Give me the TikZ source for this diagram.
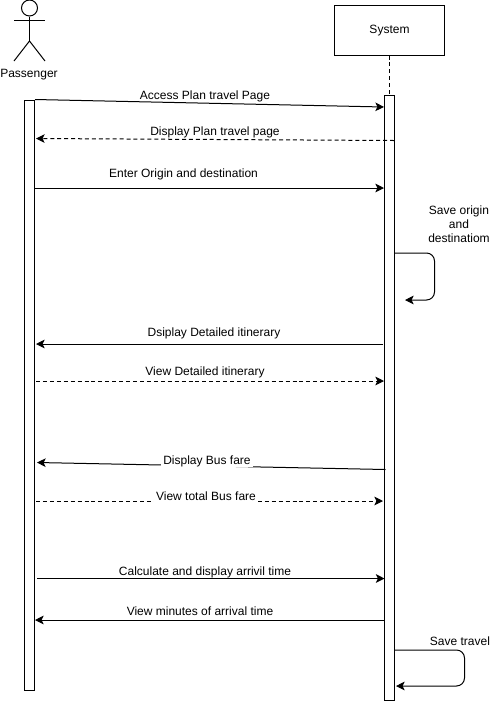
\documentclass[tikz,border=0pt]{standalone}
\usepackage{fontspec}
\setmainfont{Liberation Sans}
\usetikzlibrary{arrows.meta,positioning}
\tikzset{
  lane/.style={
    draw,
    fill=white,
    minimum width=7.5pt,
    inner sep=0pt,
    line width=0.75pt
  },
  sysbox/.style={
    draw,
    fill=white,
    minimum width=82.5pt,
    minimum height=37.5pt,
    inner sep=0pt,
    line width=0.75pt,
    font=\fontsize{9}{10.5}\selectfont
  },
  lbl/.style={
    align=center,
    inner sep=0pt,
    font=\fontsize{9}{10.5}\selectfont
  },
  lblw/.style={
    lbl,
    fill=white,
    inner xsep=1.5pt,
    inner ysep=0pt
  },
  flow/.style={-{Stealth[length=6.5pt,width=6.5pt,inset=1.6pt]}, line width=0.75pt},
  back/.style={flow, dashed, dash pattern=on 3pt off 2.2pt},
  actor/.style={line width=0.75pt}
}

\begin{document}
\begin{tikzpicture}[x=0.75pt,y=-0.75pt]
  \useasboundingbox (0,0) rectangle (495,701);

  % actor
  \node[circle, draw, actor, minimum size=12pt, inner sep=0pt] (head) at (29.5,8) {};
  \coordinate (neck) at (29.5,41);
  \coordinate (armL) at (14,20);
  \coordinate (armR) at (45,20);
  \coordinate (legL) at (14,61);
  \coordinate (legR) at (45,61);
  \draw[actor] (head) -- (neck);
  \draw[actor] (armL) -- (armR);
  \draw[actor] (legL) -- (neck) -- (legR);
  \node[lbl] (passenger) at (29,75) {Passenger};

  % system
  \node[sysbox] (system) at (389.5,30) {\raisebox{-2.6pt}[0pt][0pt]{System}};
  \node[lane, minimum height=453.75pt] (sysbar) at (389.5,397.5) {};
  \node[lane, minimum height=442.5pt] (pasbar) at (29.5,395) {};
  \draw[dashed, dash pattern=on 3pt off 2.2pt, line width=0.75pt] (system) -- (sysbar);

  % message ends
  \coordinate (a1) at (35,99.5);   \coordinate (b1) at (384,107);
  \coordinate (a2) at (394,140.5); \coordinate (b2) at (36,138.5);
  \coordinate (a3) at (35,188);    \coordinate (b3) at (384,188);
  \coordinate (a4) at (394.5,253); \coordinate (c4) at (434.5,253);
  \coordinate (d4) at (434.5,300); \coordinate (b4) at (405,300);
  \coordinate (a5) at (383,344);   \coordinate (b5) at (36,344);
  \coordinate (a6) at (36,381);    \coordinate (b6) at (384,381);
  \coordinate (a7) at (385.5,469.5); \coordinate (b7) at (37,462.5);
  \coordinate (a8) at (36,501);    \coordinate (b8) at (383,501);
  \coordinate (a9) at (37,578.5);  \coordinate (b9) at (384.5,578.5);
  \coordinate (a10) at (384.5,620); \coordinate (b10) at (35,620);
  \coordinate (a11) at (394.5,650); \coordinate (c11) at (464.5,650);
  \coordinate (d11) at (464.5,686); \coordinate (b11) at (396,686);

  \draw[flow] (a1) -- (b1);
  \draw[back] (a2) -- (b2);
  \draw[flow] (a3) -- (b3);
  \draw[flow, rounded corners=6pt] (a4) -- (c4) -- (d4) -- (b4);
  \draw[flow] (a5) -- (b5);
  \draw[back] (a6) -- (b6);
  \draw[flow] (a7) -- (b7);
  \draw[back] (a8) -- (b8);
  \draw[flow] (a9) -- (b9);
  \draw[flow] (a10) -- (b10);
  \draw[flow, rounded corners=6pt] (a11) -- (c11) -- (d11) -- (b11);

  % labels
  \node[lbl] (m1) at (205,96.5) {Access Plan travel Page};
  \node[lbl] (m2) at (215,132) {Display Plan travel page};
  \node[lbl] (m3) at (183.5,174) {Enter Origin and destination};
  \node[lbl] (m4) at (459,224) {Save origin\\and\\destinatiom};
  \node[lbl] (m5) at (214,333.5) {Dsiplay Detailed itinerary};
  \node[lbl] (m6) at (205,372.5) {View Detailed itinerary};
  \node[lblw] (m7) at (207,461) {Display Bus fare};
  \node[lblw, inner ysep=2pt] (m8) at (206,496) {View total Bus fare};
  \node[lbl] (m9) at (205,572) {Calculate and display arrivil time};
  \node[lbl] (m10) at (200,611.5) {View minutes of arrival time};
  \node[lbl] (m11) at (460,641.5) {Save travel};
\end{tikzpicture}
\end{document}
